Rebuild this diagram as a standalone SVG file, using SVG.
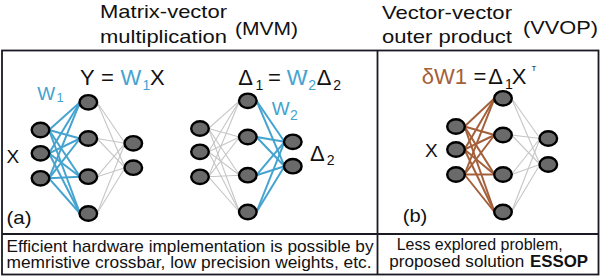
<svg xmlns="http://www.w3.org/2000/svg" width="602" height="276" viewBox="0 0 602 276">
<style>
text{font-family:"Liberation Sans",Arial,sans-serif;fill:#111}
.t{font-size:19px}
.eq{font-size:22px}
.sub{font-size:14px}
.sup{font-size:8px}
.b{fill:#45a3cf}
.br{fill:#a3603a}
.bt{font-size:17px}
.node{fill:#6a6a6a;stroke:#000;stroke-width:2.4}
.eb{stroke:#45a3cf;stroke-width:2}
.ebr{stroke:#a3603a;stroke-width:2}
.eg{stroke:#c6c6c6;stroke-width:1.1}
.frame{fill:none;stroke:#1a1a24;stroke-width:1.8}
</style>
<rect width="602" height="276" fill="#fff"/>
<g id="frame">
<rect class="frame" x="2" y="50.5" width="596.5" height="224"/>
<line class="frame" x1="377.5" y1="50.5" x2="377.5" y2="274.5"/>
<line class="frame" x1="2" y1="234" x2="598.5" y2="234"/>
</g>
<g id="titles">
<text class="t" x="100" y="18.3" textLength="127" lengthAdjust="spacingAndGlyphs">Matrix-vector</text>
<text class="t" x="100" y="43" textLength="127" lengthAdjust="spacingAndGlyphs">multiplication</text>
<text class="t" x="235" y="35" textLength="63" lengthAdjust="spacingAndGlyphs">(MVM)</text>
<text class="t" x="382" y="18.5" textLength="130" lengthAdjust="spacingAndGlyphs">Vector-vector</text>
<text class="t" x="382" y="42.5" textLength="130" lengthAdjust="spacingAndGlyphs">outer product</text>
<text class="t" x="523" y="33.5" textLength="75" lengthAdjust="spacingAndGlyphs">(VVOP)</text>
</g>
<g id="connectors">
<!-- Network A: input to hidden (blue) -->
<line class="eb" x1="49" y1="130" x2="80" y2="102.3"/>
<line class="eb" x1="49" y1="130" x2="80" y2="138.5"/>
<line class="eb" x1="49" y1="130" x2="80" y2="176.7"/>
<line class="eb" x1="49" y1="130" x2="80" y2="213.5"/>
<line class="eb" x1="49" y1="153.3" x2="80" y2="102.3"/>
<line class="eb" x1="49" y1="153.3" x2="80" y2="138.5"/>
<line class="eb" x1="49" y1="153.3" x2="80" y2="176.7"/>
<line class="eb" x1="49" y1="153.3" x2="80" y2="213.5"/>
<line class="eb" x1="49" y1="178.3" x2="80" y2="102.3"/>
<line class="eb" x1="49" y1="178.3" x2="80" y2="138.5"/>
<line class="eb" x1="49" y1="178.3" x2="80" y2="176.7"/>
<line class="eb" x1="49" y1="178.3" x2="80" y2="213.5"/>
<!-- Network A: hidden to output (grey) -->
<line class="eg" x1="97" y1="102.3" x2="125" y2="143.3"/>
<line class="eg" x1="97" y1="102.3" x2="125" y2="167.7"/>
<line class="eg" x1="97" y1="138.5" x2="125" y2="143.3"/>
<line class="eg" x1="97" y1="138.5" x2="125" y2="167.7"/>
<line class="eg" x1="97" y1="176.7" x2="125" y2="143.3"/>
<line class="eg" x1="97" y1="176.7" x2="125" y2="167.7"/>
<line class="eg" x1="97" y1="213.5" x2="125" y2="143.3"/>
<line class="eg" x1="97" y1="213.5" x2="125" y2="167.7"/>
<!-- Network B: input to hidden (grey) -->
<line class="eg" x1="208.5" y1="128.5" x2="239.5" y2="100.8"/>
<line class="eg" x1="208.5" y1="128.5" x2="239.5" y2="137"/>
<line class="eg" x1="208.5" y1="128.5" x2="239.5" y2="175.2"/>
<line class="eg" x1="208.5" y1="128.5" x2="239.5" y2="212"/>
<line class="eg" x1="208.5" y1="151.8" x2="239.5" y2="100.8"/>
<line class="eg" x1="208.5" y1="151.8" x2="239.5" y2="137"/>
<line class="eg" x1="208.5" y1="151.8" x2="239.5" y2="175.2"/>
<line class="eg" x1="208.5" y1="151.8" x2="239.5" y2="212"/>
<line class="eg" x1="208.5" y1="176.8" x2="239.5" y2="100.8"/>
<line class="eg" x1="208.5" y1="176.8" x2="239.5" y2="137"/>
<line class="eg" x1="208.5" y1="176.8" x2="239.5" y2="175.2"/>
<line class="eg" x1="208.5" y1="176.8" x2="239.5" y2="212"/>
<!-- Network B: hidden to output (blue) -->
<line class="eb" x1="256.5" y1="100.8" x2="284.5" y2="141.8"/>
<line class="eb" x1="256.5" y1="100.8" x2="284.5" y2="166.2"/>
<line class="eb" x1="256.5" y1="137" x2="284.5" y2="141.8"/>
<line class="eb" x1="256.5" y1="137" x2="284.5" y2="166.2"/>
<line class="eb" x1="256.5" y1="175.2" x2="284.5" y2="141.8"/>
<line class="eb" x1="256.5" y1="175.2" x2="284.5" y2="166.2"/>
<line class="eb" x1="256.5" y1="212" x2="284.5" y2="141.8"/>
<line class="eb" x1="256.5" y1="212" x2="284.5" y2="166.2"/>
<!-- Network C: input to hidden (brown) -->
<line class="ebr" x1="464.5" y1="126.5" x2="494.5" y2="98.3"/>
<line class="ebr" x1="464.5" y1="126.5" x2="494.5" y2="135"/>
<line class="ebr" x1="464.5" y1="126.5" x2="494.5" y2="174.5"/>
<line class="ebr" x1="464.5" y1="126.5" x2="494.5" y2="212"/>
<line class="ebr" x1="464.5" y1="149.5" x2="494.5" y2="98.3"/>
<line class="ebr" x1="464.5" y1="149.5" x2="494.5" y2="135"/>
<line class="ebr" x1="464.5" y1="149.5" x2="494.5" y2="174.5"/>
<line class="ebr" x1="464.5" y1="149.5" x2="494.5" y2="212"/>
<line class="ebr" x1="464.5" y1="174.5" x2="494.5" y2="98.3"/>
<line class="ebr" x1="464.5" y1="174.5" x2="494.5" y2="135"/>
<line class="ebr" x1="464.5" y1="174.5" x2="494.5" y2="174.5"/>
<line class="ebr" x1="464.5" y1="174.5" x2="494.5" y2="212"/>
<!-- Network C: hidden to output (grey) -->
<line class="eg" x1="511.5" y1="98.3" x2="540" y2="138.5"/>
<line class="eg" x1="511.5" y1="98.3" x2="540" y2="164.5"/>
<line class="eg" x1="511.5" y1="135" x2="540" y2="138.5"/>
<line class="eg" x1="511.5" y1="135" x2="540" y2="164.5"/>
<line class="eg" x1="511.5" y1="174.5" x2="540" y2="138.5"/>
<line class="eg" x1="511.5" y1="174.5" x2="540" y2="164.5"/>
<line class="eg" x1="511.5" y1="212" x2="540" y2="138.5"/>
<line class="eg" x1="511.5" y1="212" x2="540" y2="164.5"/>
</g>
<g id="netA">
<g id="a-in1"><ellipse class="node" cx="40.5" cy="130" rx="8.8" ry="7.2"/></g>
<g id="a-in2"><ellipse class="node" cx="40.5" cy="153.3" rx="8.8" ry="7.2"/></g>
<g id="a-in3"><ellipse class="node" cx="40.5" cy="178.3" rx="8.8" ry="7.2"/></g>
<g id="a-h1"><ellipse class="node" cx="88.3" cy="102.3" rx="8.8" ry="7.2"/></g>
<g id="a-h2"><ellipse class="node" cx="88.3" cy="138.5" rx="8.8" ry="7.2"/></g>
<g id="a-h3"><ellipse class="node" cx="88.3" cy="176.7" rx="8.8" ry="7.2"/></g>
<g id="a-h4"><ellipse class="node" cx="88.3" cy="213.5" rx="8.8" ry="7.2"/></g>
<g id="a-o1"><ellipse class="node" cx="133.3" cy="143.3" rx="8.8" ry="7.2"/></g>
<g id="a-o2"><ellipse class="node" cx="133.3" cy="167.7" rx="8.8" ry="7.2"/></g>
</g>
<g id="netB">
<g id="b-in1"><ellipse class="node" cx="200" cy="128.5" rx="8.8" ry="7.2"/></g>
<g id="b-in2"><ellipse class="node" cx="200" cy="151.8" rx="8.8" ry="7.2"/></g>
<g id="b-in3"><ellipse class="node" cx="200" cy="176.8" rx="8.8" ry="7.2"/></g>
<g id="b-h1"><ellipse class="node" cx="247.8" cy="100.8" rx="8.8" ry="7.2"/></g>
<g id="b-h2"><ellipse class="node" cx="247.8" cy="137" rx="8.8" ry="7.2"/></g>
<g id="b-h3"><ellipse class="node" cx="247.8" cy="175.2" rx="8.8" ry="7.2"/></g>
<g id="b-h4"><ellipse class="node" cx="247.8" cy="212" rx="8.8" ry="7.2"/></g>
<g id="b-o1"><ellipse class="node" cx="292.8" cy="141.8" rx="8.8" ry="7.2"/></g>
<g id="b-o2"><ellipse class="node" cx="292.8" cy="166.2" rx="8.8" ry="7.2"/></g>
</g>
<g id="netC">
<g id="c-in1"><ellipse class="node" cx="456" cy="126.5" rx="8.8" ry="7.2"/></g>
<g id="c-in2"><ellipse class="node" cx="456" cy="149.5" rx="8.8" ry="7.2"/></g>
<g id="c-in3"><ellipse class="node" cx="456" cy="174.5" rx="8.8" ry="7.2"/></g>
<g id="c-h1"><ellipse class="node" cx="503" cy="98.3" rx="8.8" ry="7.2"/></g>
<g id="c-h2"><ellipse class="node" cx="503" cy="135" rx="8.8" ry="7.2"/></g>
<g id="c-h3"><ellipse class="node" cx="503" cy="174.5" rx="8.8" ry="7.2"/></g>
<g id="c-h4"><ellipse class="node" cx="503" cy="212" rx="8.8" ry="7.2"/></g>
<g id="c-o1"><ellipse class="node" cx="548.3" cy="138.5" rx="8.8" ry="7.2"/></g>
<g id="c-o2"><ellipse class="node" cx="548.3" cy="164.5" rx="8.8" ry="7.2"/></g>
</g>
<g id="labels">
<!-- Y = W1 X -->
<text class="eq" x="80" y="85">Y</text>
<text class="eq" x="101" y="85">=</text>
<text class="eq b" x="120.5" y="85">W</text>
<text class="sub b" x="142.5" y="90">1</text>
<text class="eq" x="150" y="85">X</text>
<!-- Δ1 = W2T Δ2 -->
<text class="eq" x="238.3" y="85">Δ</text>
<text class="sub" x="255.5" y="90">1</text>
<text class="eq" x="268" y="85">=</text>
<text class="eq b" x="286.7" y="85">W</text>
<text class="sup b" x="303" y="75">T</text>
<text class="sub b" x="308.3" y="90">2</text>
<text class="eq" x="316.7" y="85">Δ</text>
<text class="sub" x="333.3" y="90">2</text>
<!-- δW1 = Δ1 X^T -->
<text class="eq br" x="421.7" y="83.5">δW1</text>
<text class="eq" x="473.5" y="83.5">=</text>
<text class="eq" x="488.3" y="83.5">Δ</text>
<text class="sub" x="505" y="88.5">1</text>
<text class="eq" x="511.7" y="83.5">X</text>
<text class="sup" x="531.5" y="71">T</text>
<!-- weight labels -->
<text class="t b" x="37.3" y="100">W</text>
<text class="b" x="56.5" y="102" font-size="13">1</text>
<text class="t b" x="271.7" y="115">W</text>
<text class="sub b" x="290" y="120">2</text>
<text class="eq" x="310" y="160.7">Δ</text>
<text class="sub" x="326.7" y="164.5">2</text>
<text class="t" x="6.5" y="163.3">X</text>
<text class="t" x="425" y="156.7">X</text>
<text class="t" x="6.5" y="224" textLength="25" lengthAdjust="spacingAndGlyphs">(a)</text>
<text class="t" x="402.7" y="222" textLength="24.6" lengthAdjust="spacingAndGlyphs">(b)</text>
</g>
<g id="captions">
<text class="bt" x="6.5" y="251.5" textLength="367" lengthAdjust="spacingAndGlyphs">Efficient hardware implementation is possible by</text>
<text class="bt" x="6.5" y="267.5" textLength="365" lengthAdjust="spacingAndGlyphs">memristive crossbar, low precision weights, etc.</text>
<text class="bt" x="396.7" y="250" textLength="166" lengthAdjust="spacingAndGlyphs">Less explored problem,</text>
<text class="bt" x="389.3" y="266.7" textLength="135" lengthAdjust="spacingAndGlyphs">proposed solution</text>
<text class="bt" x="530" y="266.7" font-weight="bold" textLength="58" lengthAdjust="spacingAndGlyphs">ESSOP</text>
</g>
</svg>
